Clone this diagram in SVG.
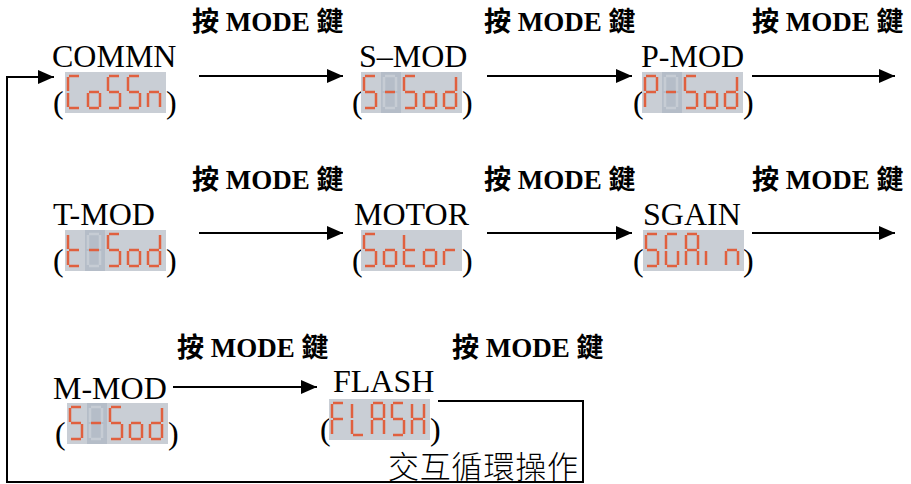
<svg xmlns="http://www.w3.org/2000/svg" xmlns:xlink="http://www.w3.org/1999/xlink" width="911" height="484" viewBox="0 0 911 484">
<style>
.node{font-family:"Liberation Serif","Times New Roman",serif;font-size:32px;fill:#000}
.lbl{font-family:"Liberation Serif","Noto Sans CJK TC",serif;font-size:27px;font-weight:bold;fill:#000}
.cjk{font-family:"Noto Sans CJK TC",sans-serif;font-size:31px;font-weight:300;fill:#000}
.lcd{fill:#c9ced5}
.dark{fill:#b5bdc8}
.seg{stroke:#e0603f;stroke-width:2.5;fill:none}
.ghost{stroke:#c6ccd4;stroke-width:2.5;fill:none}
.conn{stroke:#000;stroke-width:2;fill:none}
</style>
<defs>
<marker id="ah" markerUnits="userSpaceOnUse" markerWidth="16" markerHeight="14" refX="16" refY="7" orient="auto">
<path d="M0,0 L16,7 L0,14 z" fill="#000"/>
</marker>
<line id="sa" x1="1" y1="0" x2="11" y2="0"/>
<line id="sb" x1="12" y1="1" x2="12" y2="15"/>
<line id="sc" x1="12" y1="17" x2="12" y2="31"/>
<line id="sd" x1="1" y1="32" x2="11" y2="32"/>
<line id="se" x1="0" y1="17" x2="0" y2="31"/>
<line id="sf" x1="0" y1="1" x2="0" y2="15"/>
<line id="sg" x1="1" y1="16" x2="11" y2="16"/>
<g id="c8" class="ghost"><use href="#sa"/><use href="#sb"/><use href="#sc"/><use href="#sd"/><use href="#se"/><use href="#sf"/></g>
<g id="cM" class="seg"><use href="#sa"/><use href="#sf"/><use href="#sg"/><use href="#sc"/><use href="#sd"/></g>
<g id="cS" class="seg"><use href="#sa"/><use href="#sf"/><use href="#sg"/><use href="#sc"/><use href="#sd"/></g>
<g id="co" class="seg"><use href="#sg"/><use href="#sc"/><use href="#sd"/><use href="#se"/></g>
<g id="cd" class="seg"><use href="#sb"/><use href="#sc"/><use href="#sd"/><use href="#se"/><use href="#sg"/></g>
<g id="cC" class="seg"><use href="#sa"/><use href="#sf"/><use href="#se"/><use href="#sd"/></g>
<g id="cn" class="seg"><use href="#sg"/><use href="#se"/><use href="#sc"/></g>
<g id="cP" class="seg"><use href="#sa"/><use href="#sb"/><use href="#sf"/><use href="#sg"/><use href="#se"/></g>
<g id="ct" class="seg"><use href="#sf"/><use href="#se"/><use href="#sd"/><use href="#sg"/></g>
<g id="cr" class="seg"><use href="#se"/><use href="#sg"/></g>
<g id="cG" class="seg"><use href="#sa"/><use href="#sf"/><use href="#se"/><use href="#sd"/><use href="#sc"/></g>
<g id="cA" class="seg"><use href="#sa"/><use href="#sb"/><use href="#sc"/><use href="#se"/><use href="#sf"/><use href="#sg"/></g>
<g id="ci" class="seg"><use href="#se"/></g>
<g id="cF" class="seg"><use href="#sa"/><use href="#sf"/><use href="#se"/><use href="#sg"/></g>
<g id="cL" class="seg"><use href="#sf"/><use href="#se"/><use href="#sd"/></g>
<g id="cH" class="seg"><use href="#sb"/><use href="#sc"/><use href="#se"/><use href="#sf"/><use href="#sg"/></g>
<g id="cdash"><rect x="-3" y="-4" width="20" height="41" class="dark"/><use href="#c8"/><g class="seg"><use href="#sg"/></g></g>
</defs>
<rect width="911" height="484" fill="#fff"/>

<g id="connectors">
<line class="conn" x1="199" y1="76" x2="343" y2="76" marker-end="url(#ah)"/>
<line class="conn" x1="487" y1="76" x2="632" y2="76" marker-end="url(#ah)"/>
<line class="conn" x1="752" y1="76" x2="895" y2="76" marker-end="url(#ah)"/>
<line class="conn" x1="199" y1="233" x2="343" y2="233" marker-end="url(#ah)"/>
<line class="conn" x1="487" y1="233" x2="632" y2="233" marker-end="url(#ah)"/>
<line class="conn" x1="752" y1="233" x2="895" y2="233" marker-end="url(#ah)"/>
<line class="conn" x1="173" y1="387" x2="317" y2="387" marker-end="url(#ah)"/>
<polyline class="conn" points="438,401 583,401 583,482 7,482 7,77 54,77" marker-end="url(#ah)"/>
<text class="lbl" x="192" y="31">按 MODE 鍵</text>
<text class="lbl" x="484" y="31">按 MODE 鍵</text>
<text class="lbl" x="752" y="31">按 MODE 鍵</text>
<text class="lbl" x="192" y="189">按 MODE 鍵</text>
<text class="lbl" x="484" y="189">按 MODE 鍵</text>
<text class="lbl" x="752" y="189">按 MODE 鍵</text>
<text class="lbl" x="177" y="357">按 MODE 鍵</text>
<text class="lbl" x="452" y="357">按 MODE 鍵</text>
<text class="cjk" x="388" y="478" textLength="190">交互循環操作</text>
</g>

<g id="node-commn">
<text class="node" x="52" y="67">COMMN</text>
<text class="node" x="53" y="113">(</text><text class="node" x="166" y="113">)</text>
<g transform="translate(65,72)"><rect class="lcd" width="101" height="41"/>
<use href="#cC" x="3" y="4"/><use href="#co" x="23" y="4"/><use href="#cM" x="43" y="4"/><use href="#cM" x="63" y="4"/><use href="#cn" x="83" y="4"/></g>
</g>

<g id="node-smod">
<text class="node" x="359" y="67">S–MOD</text>
<text class="node" x="352" y="113">(</text><text class="node" x="462" y="113">)</text>
<g transform="translate(361,72)"><rect class="lcd" width="101" height="41"/>
<use href="#cS" x="3" y="4"/><use href="#cdash" x="23" y="4"/><use href="#cM" x="43" y="4"/><use href="#co" x="63" y="4"/><use href="#cd" x="83" y="4"/></g>
</g>

<g id="node-pmod">
<text class="node" x="641" y="67">P-MOD</text>
<text class="node" x="633" y="113">(</text><text class="node" x="743" y="113">)</text>
<g transform="translate(642,72)"><rect class="lcd" width="101" height="41"/>
<use href="#cP" x="3" y="4"/><use href="#cdash" x="23" y="4"/><use href="#cM" x="43" y="4"/><use href="#co" x="63" y="4"/><use href="#cd" x="83" y="4"/></g>
</g>

<g id="node-tmod">
<text class="node" x="53" y="225">T-MOD</text>
<text class="node" x="53" y="271">(</text><text class="node" x="166" y="271">)</text>
<g transform="translate(65,230)"><rect class="lcd" width="101" height="41"/>
<use href="#ct" x="3" y="4"/><use href="#cdash" x="23" y="4"/><use href="#cM" x="43" y="4"/><use href="#co" x="63" y="4"/><use href="#cd" x="83" y="4"/></g>
</g>

<g id="node-motor">
<text class="node" x="354" y="225">MOTOR</text>
<text class="node" x="352" y="271">(</text><text class="node" x="462" y="271">)</text>
<g transform="translate(361,230)"><rect class="lcd" width="101" height="41"/>
<use href="#cM" x="3" y="4"/><use href="#co" x="23" y="4"/><use href="#ct" x="43" y="4"/><use href="#co" x="63" y="4"/><use href="#cr" x="83" y="4"/></g>
</g>

<g id="node-sgain">
<text class="node" x="643" y="225">SGAIN</text>
<text class="node" x="633" y="271">(</text><text class="node" x="743" y="271">)</text>
<g transform="translate(643,230)"><rect class="lcd" width="101" height="41"/>
<use href="#cS" x="3" y="4"/><use href="#cG" x="23" y="4"/><use href="#cA" x="43" y="4"/><use href="#ci" x="63" y="4"/><use href="#cn" x="83" y="4"/></g>
</g>

<g id="node-mmod">
<text class="node" x="53" y="399">M-MOD</text>
<text class="node" x="55" y="444">(</text><text class="node" x="168" y="444">)</text>
<g transform="translate(67,403)"><rect class="lcd" width="101" height="41"/>
<use href="#cM" x="3" y="4"/><use href="#cdash" x="23" y="4"/><use href="#cM" x="43" y="4"/><use href="#co" x="63" y="4"/><use href="#cd" x="83" y="4"/></g>
</g>

<g id="node-flash">
<text class="node" x="333" y="392">FLASH</text>
<text class="node" x="320" y="440">(</text><text class="node" x="430" y="440">)</text>
<g transform="translate(329,399)"><rect class="lcd" width="101" height="41"/>
<use href="#cF" x="3" y="4"/><use href="#cL" x="23" y="4"/><use href="#cA" x="43" y="4"/><use href="#cS" x="63" y="4"/><use href="#cH" x="83" y="4"/></g>
</g>
</svg>
